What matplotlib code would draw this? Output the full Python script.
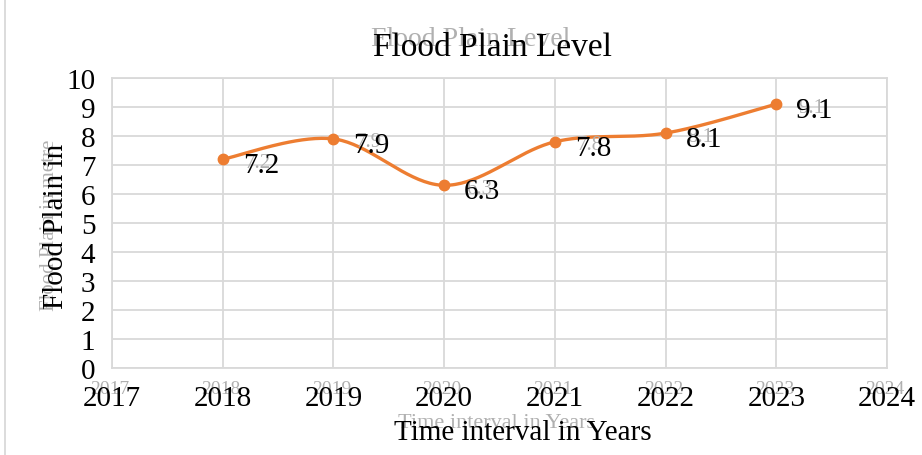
import matplotlib.pyplot as plt
import numpy as np
from matplotlib.lines import Line2D
from matplotlib.transforms import offset_copy

years = [2018, 2019, 2020, 2021, 2022, 2023]
flood_level = [7.2, 7.9, 6.3, 7.8, 8.1, 9.1]
x_ticks = [2017, 2018, 2019, 2020, 2021, 2022, 2023, 2024]
y_ticks = [0, 1, 2, 3, 4, 5, 6, 7, 8, 9, 10]

ORANGE = '#ED7D31'
GRID = '#D9D9D9'
GHOST = '#B0B0B0'


def smooth(xs, ys, n=40):
    # excel style smoothed line: cubic bezier with catmull-rom handles
    px = [xs[0]] + list(xs) + [xs[-1]]
    py = [ys[0]] + list(ys) + [ys[-1]]
    outx, outy = [], []
    t = np.linspace(0, 1, n)
    for i in range(1, len(px) - 2):
        p0 = np.array([px[i], py[i]])
        p3 = np.array([px[i + 1], py[i + 1]])
        p1 = p0 + (np.array([px[i + 1], py[i + 1]]) - np.array([px[i - 1], py[i - 1]])) / 6
        p2 = p3 - (np.array([px[i + 2], py[i + 2]]) - np.array([px[i], py[i]])) / 6
        for tt in t:
            b = ((1 - tt) ** 3) * p0 + 3 * ((1 - tt) ** 2) * tt * p1 + 3 * (1 - tt) * tt ** 2 * p2 + tt ** 3 * p3
            outx.append(b[0])
            outy.append(b[1])
    return outx, outy


plt.rcParams['font.family'] = ['Liberation Serif', 'DejaVu Serif']

fig = plt.figure(figsize=(9.22, 4.56), dpi=100)
ax = fig.add_axes([112 / 922, 1 - 369 / 456, (887 - 112) / 922, (369 - 79) / 456])

sx, sy = smooth(years, flood_level)
ax.plot(sx, sy, color=ORANGE, linewidth=2.4, solid_capstyle='round', zorder=3)
ax.plot(years, flood_level, 'o', color=ORANGE, markersize=7.5, zorder=4)

# faint duplicated labels (ghost layer in the source image)
for x, y in zip(years, flood_level):
    tr = offset_copy(ax.transData, fig=fig, x=22, y=-3, units='dots')
    ax.text(x, y, f'{y}', transform=tr, fontsize=15, color=GHOST, ha='left', va='center', zorder=4)
for x, y in zip(years, flood_level):
    tr = offset_copy(ax.transData, fig=fig, x=20, y=-6, units='dots')
    ax.text(x, y, f'{y}', transform=tr, fontsize=21, color='black', ha='left', va='center', zorder=5)

ax.set_xlim(2017, 2024)
ax.set_ylim(0, 10)
ax.set_xticks(x_ticks)
ax.set_yticks(y_ticks)
ax.set_xticklabels([str(v) for v in x_ticks], fontsize=21)
ax.set_yticklabels([str(v) for v in y_ticks], fontsize=21)
ax.tick_params(axis='both', length=0)
ax.tick_params(axis='x', pad=12)
ax.tick_params(axis='y', pad=12)
for lab in ax.get_yticklabels():
    lab.set_transform(lab.get_transform() + offset_copy(ax.transAxes, fig=fig, x=0, y=-4, units='dots') - ax.transAxes)

ax.grid(True, color=GRID, linewidth=1.3)
ax.set_axisbelow(True)
for s in ax.spines.values():
    s.set_color(GRID)
    s.set_linewidth(1.3)

# ghost tick labels
for v in x_ticks:
    ax.text(v, 0, str(v), transform=offset_copy(ax.transData, fig=fig, x=-2, y=-21, units='dots'),
            fontsize=14, color=GHOST, ha='center', va='center', zorder=0)

fig.text(471 / 922, 1 - 40 / 456, 'Flood Plain Level', fontsize=20, color=GHOST, ha='center', va='center')
fig.text(492 / 922, 1 - 48 / 456, 'Flood Plain Level', fontsize=24, color='black', ha='center', va='center')

fig.text(50 / 922, 1 - 225 / 456, 'Flood Plain in metre', fontsize=15, color=GHOST, rotation=90, ha='center', va='center')
fig.text(56 / 922, 1 - 226 / 456, 'Flood Plain in', fontsize=21, color='black', rotation=90, ha='center', va='center')

fig.text(496 / 922, 1 - 423 / 456, 'Time interval in Years', fontsize=16, color=GHOST, ha='center', va='center')
fig.text(523 / 922, 1 - 433 / 456, 'Time interval in Years', fontsize=21, color='black', ha='center', va='center')

fig.add_artist(Line2D([5 / 922, 5 / 922], [0, 1], color=GRID, linewidth=1.3, transform=fig.transFigure))

fig.savefig('out.png', dpi=100, facecolor='white')
